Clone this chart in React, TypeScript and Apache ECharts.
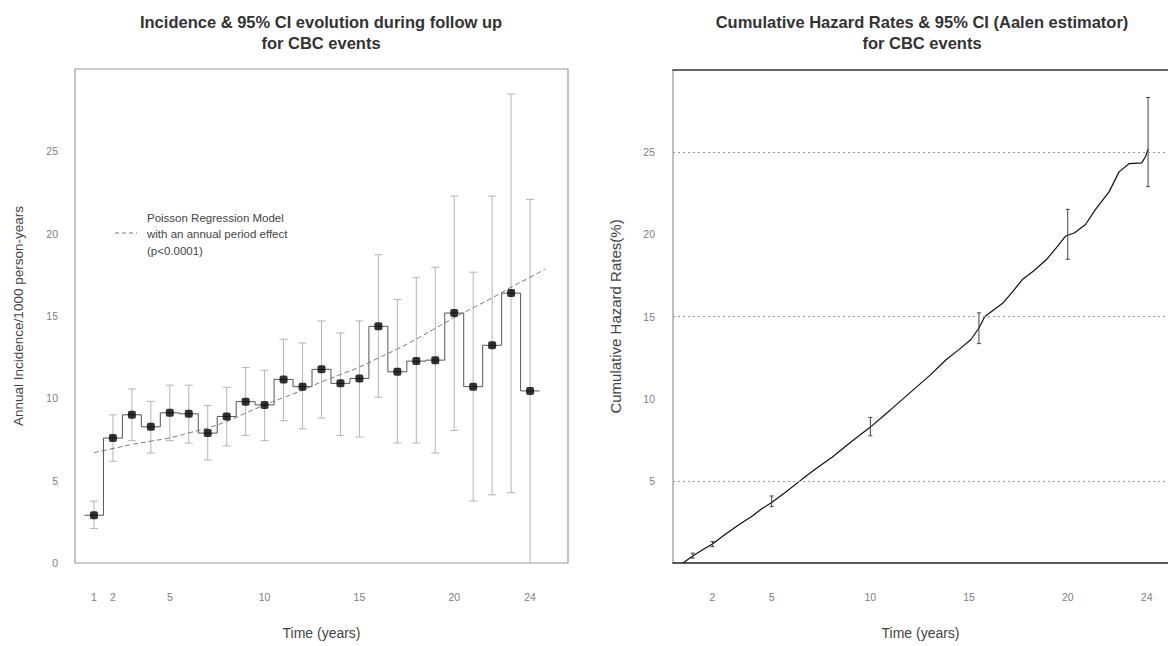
import React, { useEffect, useRef } from "react";
import * as echarts from "echarts";

// ---------- Left panel: annual incidence ----------
const years = [1, 2, 3, 4, 5, 6, 7, 8, 9, 10, 11, 12, 13, 14, 15, 16, 17, 18, 19, 20, 21, 22, 23, 24];
const incidence = [2.9, 7.59, 9.0, 8.27, 9.12, 9.06, 7.89, 8.9, 9.8, 9.6, 11.15, 10.71, 11.76, 10.91, 11.21, 14.37, 11.61, 12.26, 12.32, 15.18, 10.71, 13.22, 16.39, 10.45];
const ciLow = [2.1, 6.18, 7.43, 6.68, 7.43, 7.29, 6.26, 7.11, 7.75, 7.43, 8.64, 8.15, 8.8, 7.75, 7.65, 10.07, 7.29, 7.29, 6.68, 8.05, 3.76, 4.14, 4.27, 0];
const ciHigh = [3.76, 9.0, 10.57, 9.82, 10.8, 10.8, 9.56, 10.67, 11.87, 11.7, 13.59, 13.37, 14.7, 13.97, 14.7, 18.72, 16.0, 17.35, 17.96, 22.28, 17.66, 22.28, 28.48, 22.08];
const modelTimes = [1, 2, 3, 4, 5, 6, 7, 8, 9, 10, 11, 12, 13, 14, 15, 16, 17, 18, 19, 20, 21, 22, 23, 24, 24.8];
const modelValues = [6.7, 6.95, 7.2, 7.4, 7.6, 7.9, 8.2, 8.6, 9.1, 9.6, 10.05, 10.5, 11.0, 11.45, 11.9, 12.45, 13.0, 13.6, 14.25, 14.9, 15.5, 16.1, 16.75, 17.35, 17.85];
const leftXTicks = [1, 2, 5, 10, 15, 20, 24];
const leftYTicks = [0, 5, 10, 15, 20, 25];

// ---------- Right panel: cumulative hazard ----------
const hazTimes = [0.5, 1.0, 1.5, 2.0, 2.6, 3.3, 4.0, 4.5, 5.0, 5.7, 6.5, 7.2, 8.06, 9.0, 10.0, 11.0, 12.0, 13.0, 13.85, 14.5, 15.1, 15.5, 15.8, 16.7, 17.2, 17.7, 18.3, 18.95, 19.5, 19.9, 20.35, 20.9, 21.4, 22.1, 22.6, 23.1, 23.75, 23.95, 24.07];
const hazValues = [0, 0.43, 0.8, 1.16, 1.7, 2.3, 2.85, 3.3, 3.68, 4.3, 5.06, 5.7, 6.44, 7.35, 8.27, 9.3, 10.35, 11.4, 12.38, 13.0, 13.6, 14.3, 15.0, 15.8, 16.5, 17.25, 17.8, 18.5, 19.3, 19.9, 20.1, 20.6, 21.5, 22.6, 23.8, 24.3, 24.35, 24.75, 25.2];
const hazCiTimes = [1, 2, 5, 10, 15.5, 20, 24.07];
const hazCiLow = [0.3, 1.0, 3.43, 7.74, 13.35, 18.48, 22.9];
const hazCiHigh = [0.6, 1.3, 4.08, 8.86, 15.22, 21.52, 28.33];
const rightXTicks = [2, 5, 10, 15, 20, 24];
const rightYTicks = [5, 10, 15, 20, 25];
const rightGridValues = [5, 15, 25];

const FONT = "'Liberation Sans', Arial, Helvetica, sans-serif";

function errorBarRenderer(color: string, halfCap: number) {
  return (params: any, api: any) => {
    const x = api.value(0);
    const lo = api.value(1);
    const hi = api.value(2);
    const pLo = api.coord([x, lo]);
    const pHi = api.coord([x, hi]);
    const style = { stroke: color, lineWidth: 1 };
    const children: any[] = [
      { type: "line", shape: { x1: pHi[0], y1: pHi[1], x2: pLo[0], y2: pLo[1] }, style },
      { type: "line", shape: { x1: pHi[0] - halfCap, y1: pHi[1], x2: pHi[0] + halfCap, y2: pHi[1] }, style },
    ];
    if (lo > 0) {
      children.push({ type: "line", shape: { x1: pLo[0] - halfCap, y1: pLo[1], x2: pLo[0] + halfCap, y2: pLo[1] }, style });
    }
    return { type: "group", children };
  };
}

export default function App() {
  const ref = useRef<HTMLDivElement>(null);

  useEffect(() => {
    if (!ref.current) return;
    const chart = echarts.init(ref.current, undefined, { renderer: "svg" });

    const stepData: number[][] = [[0.5, incidence[0]]];
    years.forEach((y, i) => stepData.push([y, incidence[i]]));
    stepData.push([24.5, incidence[incidence.length - 1]]);

    const axisLabelStyle = { color: "#808080", fontSize: 10.5, fontFamily: FONT };
    const nameStyle = { color: "#444", fontSize: 14, fontFamily: FONT };
    const titleFont = `bold 16.5px ${FONT}`;
    const legendFont = `11.5px ${FONT}`;

    const option: any = {
      animation: false,
      backgroundColor: "#ffffff",
      grid: [
        { left: 75, top: 69, width: 493, height: 494, show: true, borderColor: "#999", borderWidth: 1.2, backgroundColor: "transparent" },
        { left: 673, top: 70, width: 499, height: 493, show: false },
      ],
      xAxis: [
        {
          gridIndex: 0, type: "value", min: 0, max: 26,
          name: "Time (years)", nameLocation: "middle", nameGap: 63, nameTextStyle: nameStyle,
          axisLine: { show: false }, axisTick: { show: false }, splitLine: { show: false },
          axisLabel: { ...axisLabelStyle, margin: 28, customValues: leftXTicks },
        },
        {
          gridIndex: 1, type: "value", min: 0, max: 25.08,
          name: "Time (years)", nameLocation: "middle", nameGap: 63, nameTextStyle: nameStyle,
          axisLine: { show: true, onZero: false, lineStyle: { color: "#222", width: 1.5 } },
          axisTick: { show: false }, splitLine: { show: false },
          axisLabel: { ...axisLabelStyle, margin: 28, customValues: rightXTicks },
        },
        {
          gridIndex: 1, type: "value", min: 0, max: 25.08, position: "top",
          axisLine: { show: true, onZero: false, lineStyle: { color: "#333", width: 1.5 } },
          axisTick: { show: false }, splitLine: { show: false }, axisLabel: { show: false },
        },
      ],
      yAxis: [
        {
          gridIndex: 0, type: "value", min: 0, max: 30,
          name: "Annual Incidence/1000 person-years", nameLocation: "middle", nameGap: 50, nameRotate: 90,
          nameTextStyle: { ...nameStyle, fontSize: 13.5 },
          axisLine: { show: false }, axisTick: { show: false }, splitLine: { show: false },
          axisLabel: { ...axisLabelStyle, margin: 17, customValues: leftYTicks },
        },
        {
          gridIndex: 1, type: "value", min: 0, max: 30,
          name: "Cumulative Hazard Rates(%)", nameLocation: "middle", nameGap: 50, nameRotate: 90,
          nameTextStyle: { ...nameStyle, fontSize: 15 },
          axisLine: { show: true, onZero: false, lineStyle: { color: "#aaa", width: 1.5 } },
          axisTick: { show: false }, splitLine: { show: false },
          axisLabel: { ...axisLabelStyle, margin: 18, customValues: rightYTicks },
        },
      ],
      graphic: [
        {
          type: "text", x: 321, y: 22,
          style: { text: "Incidence & 95% CI evolution during follow up", fill: "#333", font: titleFont, textAlign: "center", verticalAlign: "middle" },
        },
        {
          type: "text", x: 321, y: 43,
          style: { text: "for CBC events", fill: "#333", font: titleFont, textAlign: "center", verticalAlign: "middle" },
        },
        {
          type: "text", x: 922, y: 22,
          style: { text: "Cumulative Hazard Rates & 95% CI (Aalen estimator)", fill: "#333", font: titleFont, textAlign: "center", verticalAlign: "middle" },
        },
        {
          type: "text", x: 922, y: 43,
          style: { text: "for CBC events", fill: "#333", font: titleFont, textAlign: "center", verticalAlign: "middle" },
        },
        {
          type: "line", shape: { x1: 115, y1: 233, x2: 137, y2: 233 },
          style: { stroke: "#777", lineWidth: 1, lineDash: [4, 3] },
        },
        {
          type: "text", x: 147, y: 218,
          style: { text: "Poisson Regression Model", fill: "#444", font: legendFont, verticalAlign: "middle" },
        },
        {
          type: "text", x: 147, y: 234,
          style: { text: "with an annual period effect", fill: "#444", font: legendFont, verticalAlign: "middle" },
        },
        {
          type: "text", x: 147, y: 251,
          style: { text: "(p<0.0001)", fill: "#444", font: legendFont, verticalAlign: "middle" },
        },
      ],
      series: [
        {
          type: "custom", xAxisIndex: 0, yAxisIndex: 0,
          renderItem: errorBarRenderer("#b5b5b5", 4),
          encode: { x: 0, y: [1, 2] },
          data: years.map((y, i) => [y, ciLow[i], ciHigh[i]]),
          z: 1,
        },
        {
          type: "line", xAxisIndex: 0, yAxisIndex: 0, step: "middle",
          data: stepData, symbol: "none",
          lineStyle: { color: "#555", width: 1 }, z: 2,
        },
        {
          type: "line", xAxisIndex: 0, yAxisIndex: 0, smooth: true,
          data: modelTimes.map((t, i) => [t, modelValues[i]]), symbol: "none",
          lineStyle: { color: "#777", width: 1, type: [5, 3] }, z: 3,
        },
        {
          type: "scatter", xAxisIndex: 0, yAxisIndex: 0,
          data: years.map((y, i) => [y, incidence[i]]),
          symbol: "roundRect", symbolSize: 8, itemStyle: { color: "#000" }, z: 4,
        },
        {
          type: "line", xAxisIndex: 1, yAxisIndex: 1,
          data: hazTimes.map((t, i) => [t, hazValues[i]]), symbol: "none",
          lineStyle: { color: "#111", width: 1.2 }, z: 3,
          markLine: {
            silent: true, symbol: "none", label: { show: false },
            lineStyle: { color: "#999", type: [2, 3], width: 1 },
            data: rightGridValues.map((v) => ({ yAxis: v })),
          },
        },
        {
          type: "custom", xAxisIndex: 1, yAxisIndex: 1,
          renderItem: errorBarRenderer("#444", 2),
          encode: { x: 0, y: [1, 2] },
          data: hazCiTimes.map((t, i) => [t, hazCiLow[i], hazCiHigh[i]]),
          z: 4,
        },
      ],
    };

    chart.setOption(option);
    return () => chart.dispose();
  }, []);

  return (
    <div
      ref={ref}
      style={{ position: "absolute", left: 0, top: 0, width: 1168, height: 646, background: "#fff" }}
    />
  );
}
